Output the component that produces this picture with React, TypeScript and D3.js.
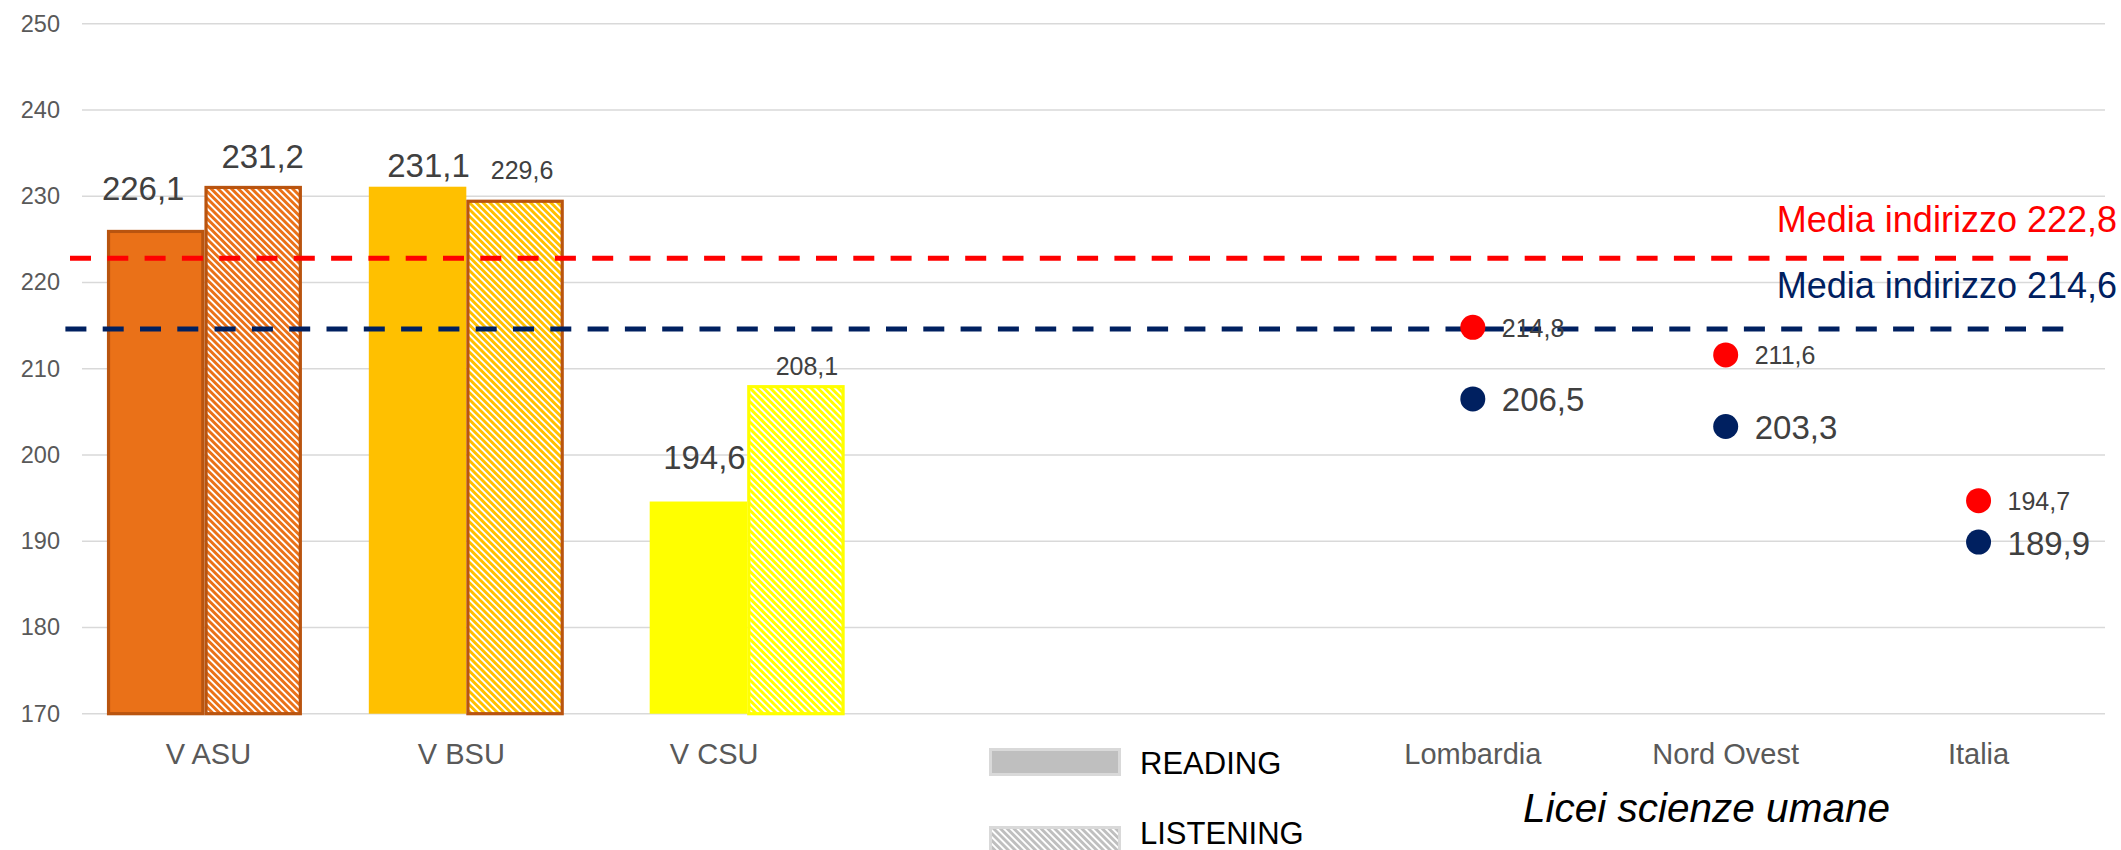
import React from "react";
import * as d3 from "d3";

// ---- data ----
const categoryLabels = ["V ASU", "V BSU", "V CSU", "", "", "Lombardia", "Nord Ovest", "Italia"];
const classNames = ["V ASU", "V BSU", "V CSU"];
const readingValues = [226.1, 231.1, 194.6];
const listeningValues = [231.2, 229.6, 208.1];
const regionNames = ["Lombardia", "Nord Ovest", "Italia"];
const regionListening = [214.8, 211.6, 194.7];
const regionReading = [206.5, 203.3, 189.9];
const meanListening = 222.8;
const meanReading = 214.6;
const yTicks = [170, 180, 190, 200, 210, 220, 230, 240, 250];
const legendLabels = ["READING", "LISTENING"];
const axisTitle = "Licei scienze umane";

const fmt = (v: number) => v.toFixed(1).replace(".", ",");

// ---- layout / style ----
const W = 2121, H = 850;
const FONT = "'Liberation Sans', Arial, sans-serif";
const classFill = ["#EA7118", "#FFC000", "#FFFF00"];
const readingStroke = ["#B9540F", null, null];
const listeningStroke = ["#B9540F", "#B9540F", "#FFFF00"];
const groupNudge = [-4, 5, 33];
const barW = 97.5;
const BIG = 33, SMALL = 25;
const readLabel = [
  { dx: -12.5, dy: -30, big: true },
  { dx: 11, dy: -10, big: true },
  { dx: 6, dy: -33, big: true },
];
const listLabel = [
  { dx: 9.5, dy: -17.6, big: true },
  { dx: 7, dy: -20.5, big: false },
  { dx: 11, dy: -10, big: false },
];

export default function App() {
  const x = d3.scaleBand<number>().domain(d3.range(categoryLabels.length)).range([82, 2105]).padding(0);
  const y = d3.scaleLinear().domain([170, 250]).range([713.7, 23.7]);
  const cx = (i: number) => (x(i) as number) + x.bandwidth() / 2;
  const base = y(170);

  const bar = (x0: number, w: number, v: number, fill: string, stroke: string | null, key: string) => {
    const sw = 3.2;
    const top = y(v);
    if (!stroke) return <rect key={key} x={x0} y={top} width={w} height={base - top} fill={fill} />;
    return (
      <rect key={key} x={x0 + sw / 2} y={top + sw / 2} width={w - sw} height={base - top - sw / 2} fill={fill} stroke={stroke} strokeWidth={sw} />
    );
  };

  return (
    <svg width={W} height={H} style={{ position: "absolute", left: 0, top: 0, background: "#fff" }} fontFamily={FONT}>
      <defs>
        {classFill.concat(["#BFBFBF"]).map((c, i) => (
          <pattern key={i} id={`hatch${i}`} patternUnits="userSpaceOnUse" width={4.8} height={10} patternTransform="rotate(-45)">
            <rect x={0} y={0} width={4.8} height={10} fill="#fff" />
            <rect x={0} y={0} width={2.9} height={10} fill={c} />
          </pattern>
        ))}
      </defs>

      {/* gridlines */}
      {yTicks.map((t) => (
        <line key={t} x1={82} x2={2105} y1={y(t)} y2={y(t)} stroke="#D9D9D9" strokeWidth={1.6} />
      ))}
      {/* y tick labels */}
      {yTicks.map((t) => (
        <text key={"l" + t} x={60} y={y(t) + 8} textAnchor="end" fontSize={23.5} fill="#595959">{t}</text>
      ))}

      {/* bars */}
      {classNames.map((c, i) => {
        const c0 = cx(i) + groupNudge[i];
        return (
          <g key={c}>
            {bar(c0 - barW, barW, readingValues[i], classFill[i], readingStroke[i], "r")}
            {bar(c0, barW, listeningValues[i], `url(#hatch${i})`, listeningStroke[i], "l")}
          </g>
        );
      })}

      {/* mean dashed lines */}
      <line x1={70} x2={2070} y1={y(meanListening)} y2={y(meanListening)} stroke="#FF0000" strokeWidth={5} strokeDasharray="21 16.3" />
      <line x1={65.4} x2={2065} y1={y(meanReading)} y2={y(meanReading)} stroke="#002060" strokeWidth={5} strokeDasharray="21 16.3" />
      <text x={2117} y={y(meanListening) - 26.6} textAnchor="end" fontSize={36} fill="#FF0000">{`Media indirizzo ${fmt(meanListening)}`}</text>
      <text x={2117} y={y(meanReading) - 30.7} textAnchor="end" fontSize={36} fill="#002060">{`Media indirizzo ${fmt(meanReading)}`}</text>

      {/* bar labels */}
      {classNames.map((c, i) => {
        const c0 = cx(i) + groupNudge[i];
        const rl = readLabel[i], ll = listLabel[i];
        return (
          <g key={"bl" + c} fill="#404040">
            <text x={c0 - barW / 2 + rl.dx} y={y(readingValues[i]) + rl.dy} textAnchor="middle" fontSize={rl.big ? BIG : SMALL}>{fmt(readingValues[i])}</text>
            <text x={c0 + barW / 2 + ll.dx} y={y(listeningValues[i]) + ll.dy} textAnchor="middle" fontSize={ll.big ? BIG : SMALL}>{fmt(listeningValues[i])}</text>
          </g>
        );
      })}

      {/* region dots */}
      {regionNames.map((r, j) => {
        const i = categoryLabels.indexOf(r);
        const px = cx(i);
        return (
          <g key={r}>
            <circle cx={px} cy={y(regionListening[j])} r={12.5} fill="#FF0000" />
            <circle cx={px} cy={y(regionReading[j])} r={12.5} fill="#002060" />
            <text x={px + 29} y={y(regionListening[j]) + 9.5} fontSize={SMALL} fill="#404040">{fmt(regionListening[j])}</text>
            <text x={px + 29} y={y(regionReading[j]) + 12.5} fontSize={BIG} fill="#404040">{fmt(regionReading[j])}</text>
          </g>
        );
      })}

      {/* category labels */}
      {categoryLabels.map((c, i) => (
        <text key={"c" + i} x={cx(i)} y={764} textAnchor="middle" fontSize={29} fill="#595959">{c}</text>
      ))}

      {/* legend */}
      <rect x={990.5} y={749.5} width={129} height={25} fill="#BFBFBF" stroke="#D9D9D9" strokeWidth={3} />
      <text x={1140} y={774} fontSize={31} fill="#000">{legendLabels[0]}</text>
      <rect x={990.5} y={827.5} width={129} height={25} fill="url(#hatch3)" stroke="#D9D9D9" strokeWidth={3} />
      <text x={1140} y={844} fontSize={31} fill="#000">{legendLabels[1]}</text>

      {/* axis title */}
      <text x={1523} y={822} fontSize={40.5} fontStyle="italic" fill="#000">{axisTitle}</text>
    </svg>
  );
}
